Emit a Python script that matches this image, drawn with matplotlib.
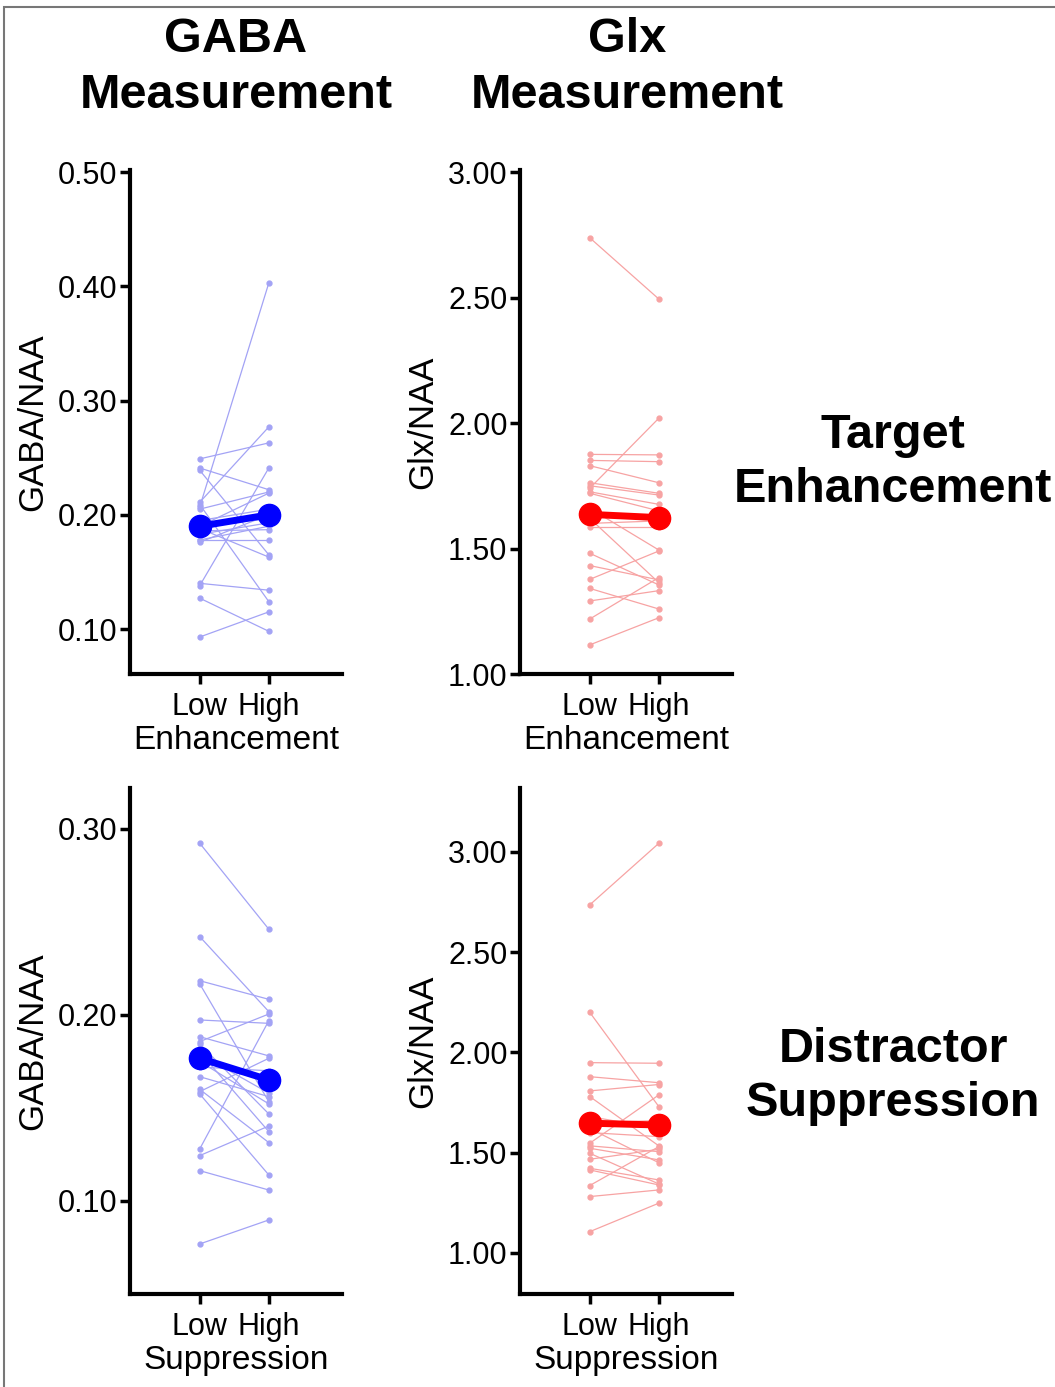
import numpy as np
import matplotlib
matplotlib.use("Agg")
import matplotlib.pyplot as plt
from matplotlib.patches import Rectangle

plt.rcParams['font.family'] = ['Liberation Sans', 'DejaVu Sans']

# Werte (Low, High pro Proband)
conditions = ["Low", "High"]

gaba_enh_low = [0.093, 0.127, 0.140, 0.138, 0.207, 0.249, 0.241, 0.239, 0.211, 0.178,
                0.209, 0.205, 0.190, 0.186, 0.183, 0.178, 0.176, 0.195, 0.192, 0.188]
gaba_enh_high = [0.115, 0.098, 0.134, 0.241, 0.403, 0.263, 0.222, 0.165, 0.277, 0.178,
                 0.124, 0.220, 0.219, 0.187, 0.193, 0.190, 0.200, 0.205, 0.196, 0.163]
gaba_enh_mean = [0.190, 0.200]

glx_enh_low = [2.738, 1.875, 1.851, 1.830, 1.762, 1.750, 1.740, 1.726, 1.720, 1.660,
               1.587, 1.481, 1.432, 1.377, 1.341, 1.291, 1.219, 1.116, 1.620, 1.600]
glx_enh_high = [2.494, 1.873, 1.846, 1.762, 1.720, 1.713, 2.019, 1.676, 1.650, 1.494,
                1.587, 1.355, 1.375, 1.490, 1.259, 1.332, 1.384, 1.224, 1.364, 1.610]
glx_enh_mean = [1.636, 1.623]

gaba_sup_low = [0.2923, 0.2421, 0.2184, 0.2167, 0.1973, 0.1883, 0.1857, 0.1844, 0.1668, 0.1600,
                0.1588, 0.1575, 0.1280, 0.1244, 0.1163, 0.0769, 0.1750, 0.1800, 0.1720, 0.1790]
gaba_sup_high = [0.2461, 0.2018, 0.2084, 0.1534, 0.1955, 0.1780, 0.2005, 0.1468, 0.1561, 0.1314,
                 0.1767, 0.1140, 0.1969, 0.1403, 0.1059, 0.0898, 0.1522, 0.1373, 0.1700, 0.1580]
gaba_sup_mean = [0.1767, 0.1651]

glx_sup_low = [2.736, 2.200, 1.949, 1.879, 1.808, 1.780, 1.547, 1.534, 1.522, 1.497,
               1.467, 1.422, 1.414, 1.336, 1.281, 1.106, 1.650, 1.620, 1.600, 1.680]
glx_sup_high = [3.043, 1.730, 1.946, 1.849, 1.840, 1.534, 1.788, 1.505, 1.464, 1.344,
                1.517, 1.364, 1.339, 1.530, 1.314, 1.248, 1.660, 1.450, 1.580, 1.620]
glx_sup_mean = [1.647, 1.638]


W, H = 1055, 1387
fig = plt.figure(figsize=(W / 100, H / 100), dpi=100)

# grauer Rahmen oben/links
fig.patches.append(Rectangle((4 / W, -0.05), 1.2, 1.05 - 7 / H, transform=fig.transFigure,
                             fill=False, edgecolor='#777777', linewidth=1.5, clip_on=False))


def panel(rect, low, high, mean, ylim, yticks, ylabel, xlabel, light, dark):
    ax = fig.add_axes(rect)
    x = np.arange(len(conditions))
    for a, b in zip(low, high):
        ax.plot(x, [a, b], '-o', color=light, lw=0.9, ms=3.5, zorder=2)
    ax.plot(x, mean, '-o', color=dark, lw=5, ms=16, zorder=3)
    ax.set_xlim(-1.01, 2.06)
    ax.set_ylim(*ylim)
    ax.set_yticks(yticks)
    ax.set_yticklabels(["%.2f" % v for v in yticks])
    ax.set_xticks(x)
    ax.set_xticklabels(conditions)
    ax.set_ylabel(ylabel, fontsize=25, labelpad=6)
    ax.set_xlabel(xlabel, fontsize=24, labelpad=2)
    for s in ['top', 'right']:
        ax.spines[s].set_visible(False)
    for s in ['left', 'bottom']:
        ax.spines[s].set_linewidth(3)
    ax.tick_params(width=2.5, length=7, labelsize=22, pad=2, color='black')
    ax.tick_params(axis='x', pad=6)
    return ax


blue_l, blue_d = '#a3a3f5', '#0000ff'
red_l, red_d = '#f7a3a3', '#ff0000'

top_b, top_h = 1 - 674 / H, 504 / H
bot_b, bot_h = 1 - 1294 / H, 506 / H
col1, col2, w = 130 / W, 520 / W, 212 / W

panel([col1, top_b, w, top_h], gaba_enh_low, gaba_enh_high, gaba_enh_mean,
      (0.0606, 0.502), [0.10, 0.20, 0.30, 0.40, 0.50], "GABA/NAA", "Enhancement", blue_l, blue_d)
panel([col2, top_b, w, top_h], glx_enh_low, glx_enh_high, glx_enh_mean,
      (1.0, 3.008), [1.00, 1.50, 2.00, 2.50, 3.00], "Glx/NAA", "Enhancement", red_l, red_d)
panel([col1, bot_b, w, bot_h], gaba_sup_low, gaba_sup_high, gaba_sup_mean,
      (0.05, 0.322), [0.10, 0.20, 0.30], "GABA/NAA", "Suppression", blue_l, blue_d)
panel([col2, bot_b, w, bot_h], glx_sup_low, glx_sup_high, glx_sup_mean,
      (0.795, 3.319), [1.00, 1.50, 2.00, 2.50, 3.00], "Glx/NAA", "Suppression", red_l, red_d)

# Spalten- und Zeilentitel
fig.text(236 / W, 1 - 67.5 / H, "GABA\nMeasurement", ha='center', va='center',
         fontsize=35, fontweight='bold', linespacing=1.32)
fig.text(627 / W, 1 - 67.5 / H, "Glx\nMeasurement", ha='center', va='center',
         fontsize=35, fontweight='bold', linespacing=1.32)
fig.text(893 / W, 1 - 462.5 / H, "Target\nEnhancement", ha='center', va='center',
         fontsize=35, fontweight='bold', linespacing=1.28)
fig.text(893 / W, 1 - 1076.5 / H, "Distractor\nSuppression", ha='center', va='center',
         fontsize=35, fontweight='bold', linespacing=1.28)

plt.savefig("out.png", dpi=100)
